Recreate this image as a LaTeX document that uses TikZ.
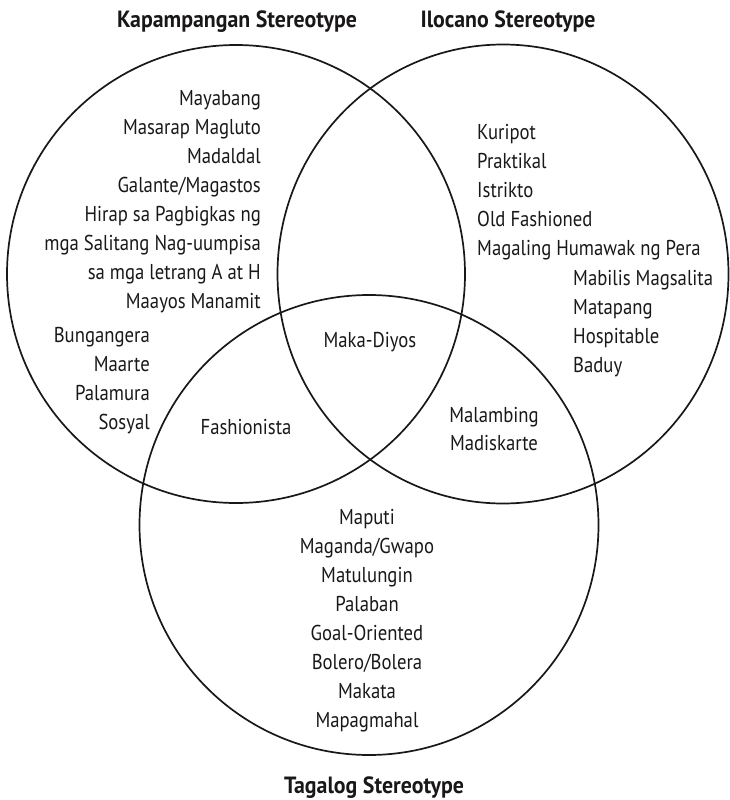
\documentclass[tikz,border=0pt]{standalone}
\usepackage{fontspec}
\setmainfont{PT Sans}[FakeStretch=0.87]
\newfontfamily\ttlfont{PT Sans}[FakeStretch=0.93]
\usetikzlibrary{shapes.geometric}
\definecolor{ink}{HTML}{1A1718}
\tikzset{
  set/.style={draw=ink, line width=1.7pt, ellipse, inner sep=0pt},
  item/.style={inner sep=0pt, font=\fontsize{21.5}{24}\selectfont, text=ink},
  ttl/.style={inner sep=0pt, anchor=base, font=\ttlfont\fontsize{23.5}{27}\bfseries\selectfont, text=ink}
}
\begin{document}
\begin{tikzpicture}[x=1pt,y=-1pt]
\useasboundingbox (0,0) rectangle (729,800);
% sets
\node[set, minimum width=458pt, minimum height=458pt] (K) at (236,274) {};
\node[set, minimum width=451pt, minimum height=459pt] (I) at (503,274) {};
\node[set, minimum width=459pt, minimum height=460pt] (T) at (369,525) {};
% titles
\node[ttl] (tK) at (237,28) {Kapampangan Stereotype};
\node[ttl] (tI) at (508,28) {Ilocano Stereotype};
\node[ttl] (tT) at (374,793) {Tagalog Stereotype};
% Kapampangan
\foreach \t [count=\i] in {Mayabang,Masarap Magluto,Madaldal,Galante/Magastos,Hirap sa Pagbigkas ng,mga Salitang Nag-uumpisa,sa mga letrang A at H,Maayos Manamit}
  \node[item, anchor=base east] (ka\i) at (261,{105+29.1*(\i-1)}) {\t};
\foreach \t [count=\i] in {Bungangera,Maarte,Palamura,Sosyal}
  \node[item, anchor=base east] (kb\i) at (150,{342+29*(\i-1)}) {\t};
% Ilocano
\foreach \t [count=\i] in {Kuripot,Praktikal,Istrikto,Old Fashioned,Magaling Humawak ng Pera}
  \node[item, anchor=base west] (ia\i) at (477,{139+29.2*(\i-1)}) {\t};
\foreach \t [count=\i] in {Mabilis Magsalita,Matapang,Hospitable,Baduy}
  \node[item, anchor=base west] (ib\i) at (573,{285+29.3*(\i-1)}) {\t};
% intersections
\node[item, anchor=base] (all) at (370,347) {Maka-Diyos};
\node[item, anchor=base] (kt) at (246,434) {Fashionista};
\node[item, anchor=base] (it1) at (494,422) {Malambing};
\node[item, anchor=base] (it2) at (494,450) {Madiskarte};
% Tagalog
\foreach \t [count=\i] in {Maputi,Maganda/Gwapo,Matulungin,Palaban,Goal-Oriented,Bolero/Bolera,Makata,Mapagmahal}
  \node[item, anchor=base] (ta\i) at (367,{524+29.1*(\i-1)}) {\t};
\end{tikzpicture}
\end{document}
